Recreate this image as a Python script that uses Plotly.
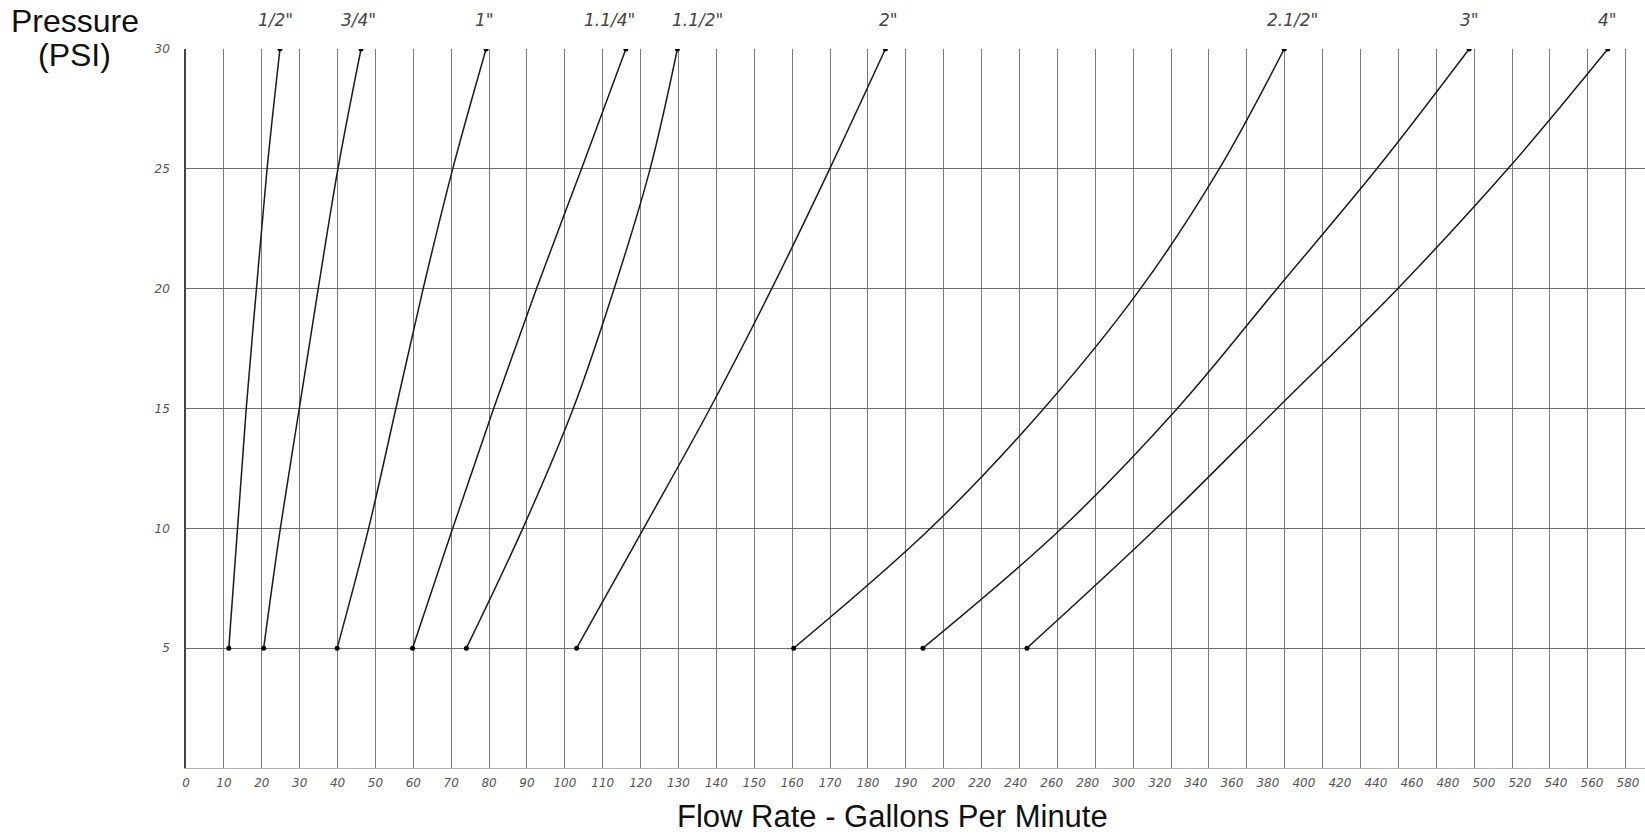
import plotly.graph_objects as go

# ---------------- data ----------------
pressure = [5, 10, 15, 20, 25, 30]
pipe_sizes = ['1/2"', '3/4"', '1"', '1.1/4"', '1.1/2"', '2"', '2.1/2"', '3"', '4"']

flow_1_2 = [11.3, 13.6, 15.9, 18.6, 21.4, 24.8]
flow_3_4 = [20.5, 24.9, 29.9, 34.9, 40.1, 46.2]
flow_1 = [39.9, 48.2, 55.4, 62.6, 70.4, 79.2]
flow_1_1_4 = [59.8, 70.4, 81.2, 92.5, 104.4, 116.1]
flow_1_1_2 = [74.0, 88.9, 102.2, 113.0, 122.5, 129.7]
flow_2 = [103.1, 120.8, 138.3, 154.6, 169.9, 184.6]
flow_2_1_2 = [160.4, 196.5, 255.6, 309.3, 353.0, 389.1]
flow_3 = [194.5, 265.5, 329.7, 385.1, 440.5, 491.8]
flow_4 = [246.2, 318.0, 385.1, 452.1, 513.3, 568.8]

flows = [flow_1_2, flow_3_4, flow_1, flow_1_1_4, flow_1_1_2,
         flow_2, flow_2_1_2, flow_3, flow_4]

x_tick_values = list(range(0, 201, 10)) + list(range(220, 581, 20))
y_tick_values = [5, 10, 15, 20, 25, 30]

# ---------------- scale (piecewise flow axis) ----------------
STEP_HI = 0.9505  # grid units per 20 GPM above 200


def gpm_pos(v):
    return v / 10.0 if v <= 200 else 20 + (v - 200) / 20.0 * STEP_HI


label_xshift = [-4, -3, -2, -16, 20, 3, 8, 0, 0]

W, H = 1645, 836
ML, MR, MT, MB = 185.5, 0, 49, 68
GRID_PX = 37.9
X_RANGE = [0, (W - ML - MR) / GRID_PX]

fig = go.Figure()

curve_color = '#1a1a1a'
for name, fl in zip(pipe_sizes, flows):
    xs = [gpm_pos(v) for v in fl]
    fig.add_trace(go.Scatter(
        x=xs, y=pressure, mode='lines', line=dict(color=curve_color, width=1.5, shape='spline'),
        showlegend=False, hoverinfo='skip'))
    fig.add_trace(go.Scatter(
        x=[xs[0], xs[-1]], y=[pressure[0], pressure[-1]], mode='markers',
        marker=dict(color='#000000', size=5), showlegend=False, hoverinfo='skip'))

# dummy trace to carry the labelled overlay axis
fig.add_trace(go.Scatter(x=[0], y=[0], xaxis='x2', yaxis='y', mode='markers',
                         marker=dict(opacity=0), showlegend=False, hoverinfo='skip'))

italic_tick = dict(family='DejaVu Sans', size=12, color='#555555', style='italic')

fig.update_layout(
    width=W, height=H,
    margin=dict(l=ML, r=MR, t=MT, b=MB),
    paper_bgcolor='white', plot_bgcolor='white',
    xaxis=dict(
        range=X_RANGE, tickmode='linear', tick0=0, dtick=1,
        showticklabels=False, ticks='', showgrid=True,
        gridcolor='#7a7a7a', gridwidth=1.3, zeroline=False,
        showline=True, linecolor='#b0b0b0', linewidth=1,
        fixedrange=True),
    xaxis2=dict(
        overlaying='x', side='bottom', range=X_RANGE,
        tickmode='array', tickvals=[gpm_pos(v) for v in x_tick_values],
        ticktext=[str(v) for v in x_tick_values],
        tickfont=italic_tick, ticks='', showgrid=False, zeroline=False,
        showline=False, ticklabelstandoff=6),
    yaxis=dict(
        range=[0, 30], tickmode='array', tickvals=y_tick_values,
        ticktext=[str(v) for v in y_tick_values],
        tickfont=italic_tick, ticks='', showgrid=True,
        gridcolor='#6e6e6e', gridwidth=1.3, zeroline=False,
        showline=True, linecolor='#444444', linewidth=1.6,
        ticklabelstandoff=12),
)

# curve labels at the top
for name, fl, dx in zip(pipe_sizes, flows, label_xshift):
    fig.add_annotation(x=gpm_pos(fl[-1]), y=30, text=name, showarrow=False,
                       xshift=dx, yshift=29, yanchor='middle',
                       font=dict(family='DejaVu Sans', size=17, color='#444444', style='italic'))

title_font = dict(family='Liberation Sans', size=32, color='#111111')
fig.add_annotation(x=0, y=1, xref='paper', yref='paper', text='Pressure', showarrow=False,
                   xanchor='center', yanchor='middle', xshift=-111, yshift=28, font=title_font)
fig.add_annotation(x=0, y=1, xref='paper', yref='paper', text='(PSI)', showarrow=False,
                   xanchor='center', yanchor='middle', xshift=-112, yshift=-6, font=title_font)
fig.add_annotation(x=0.4844, y=0, xref='paper', yref='paper', text='Flow Rate - Gallons Per Minute',
                   showarrow=False, xanchor='center', yanchor='middle', yshift=-48,
                   font=dict(family='Liberation Sans', size=31, color='#111111'))

fig.write_html('out.html', config={'displayModeBar': False},
               post_script="document.body.style.margin='0';document.body.style.overflow='hidden';")
